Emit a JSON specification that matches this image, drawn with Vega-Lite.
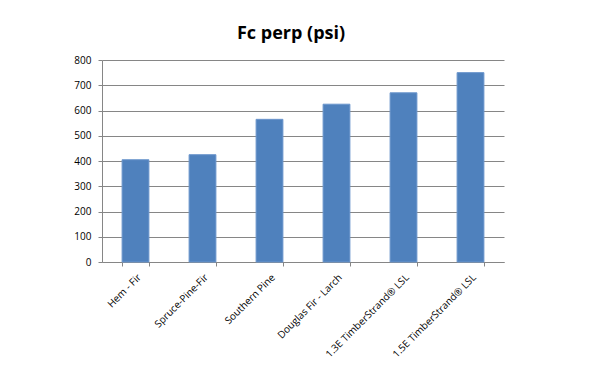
{
  "$schema": "https://vega.github.io/schema/vega-lite/v6.json",
  "width": 402,
  "height": 202,
  "autosize": {"type": "none"},
  "padding": {"left": 102, "top": 60, "right": 96, "bottom": 116},
  "background": "white",
  "title": {
    "text": "Fc perp (psi)",
    "font": "Open Sans",
    "fontSize": 18,
    "fontWeight": "bold",
    "color": "#000000",
    "anchor": "middle",
    "dx": -12,
    "offset": 12
  },
  "data": {
    "values": [
      {"species": "Hem - Fir", "value": 405},
      {"species": "Spruce-Pine-Fir", "value": 425},
      {"species": "Southern Pine", "value": 565},
      {"species": "Douglas Fir - Larch", "value": 625},
      {"species": "1.3E TimberStrand® LSL", "value": 670},
      {"species": "1.5E TimberStrand® LSL", "value": 750}
    ]
  },
  "mark": {"type": "bar", "color": "#4F81BD", "stroke": "#6A95CC", "strokeWidth": 1},
  "encoding": {
    "x": {
      "field": "species",
      "type": "nominal",
      "sort": null,
      "title": null,
      "scale": {"paddingInner": 0.6, "paddingOuter": 0.3},
      "axis": {
        "labelAngle": -45,
        "labelAlign": "right",
        "labelBaseline": "top",
        "labelFont": "Open Sans",
        "labelFontSize": 10,
        "labelColor": "#000000",
        "labelPadding": 6,
        "tickBand": "extent",
        "tickSize": 4,
        "tickColor": "#868686",
        "domainColor": "#868686",
        "grid": false
      }
    },
    "y": {
      "field": "value",
      "type": "quantitative",
      "title": null,
      "scale": {"domain": [0, 800], "nice": false},
      "axis": {
        "values": [0, 100, 200, 300, 400, 500, 600, 700, 800],
        "labelFont": "Open Sans",
        "labelFontSize": 10,
        "labelColor": "#000000",
        "labelPadding": 7,
        "tickSize": 4,
        "tickColor": "#868686",
        "domainColor": "#868686",
        "gridColor": "#868686",
        "gridWidth": 1
      }
    }
  },
  "config": {"view": {"stroke": null}}
}
